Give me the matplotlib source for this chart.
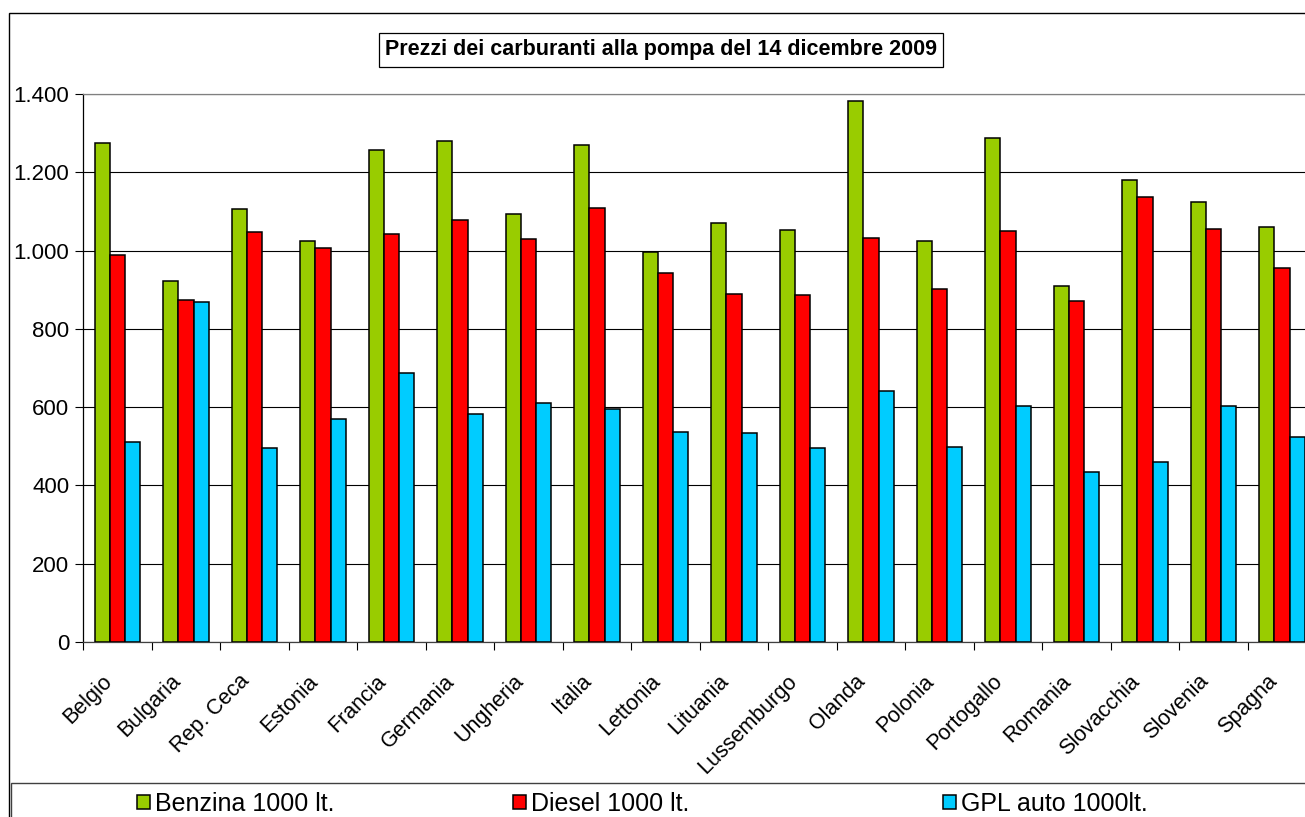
import numpy as np
import matplotlib
matplotlib.use("Agg")
import matplotlib.pyplot as plt
from matplotlib.patches import Rectangle
from matplotlib.ticker import FuncFormatter, FixedLocator
import matplotlib.transforms as mtransforms

plt.rcParams['font.family'] = ['Liberation Sans', 'DejaVu Sans']

# --- data: pump prices per 1000 litres ---
paesi = ["Belgio", "Bulgaria", "Rep. Ceca", "Estonia", "Francia", "Germania",
         "Ungheria", "Italia", "Lettonia", "Lituania", "Lussemburgo", "Olanda",
         "Polonia", "Portogallo", "Romania", "Slovacchia", "Slovenia", "Spagna"]
benzina = [1275, 922, 1107, 1025, 1258, 1281, 1093, 1270, 997, 1071, 1052, 1383,
           1024, 1287, 910, 1182, 1124, 1061]
diesel = [989, 873, 1049, 1006, 1042, 1078, 1031, 1109, 942, 888, 887, 1033,
          901, 1050, 871, 1138, 1056, 957]
gpl = [511, 869, 495, 569, 686, 582, 611, 596, 536, 534, 496, 641,
       497, 603, 435, 460, 604, 523]
serie = ["Benzina 1000 lt.", "Diesel 1000 lt.", "GPL auto 1000lt."]
colori = ["#99CC00", "#FF0000", "#00CCFF"]

W, H = 1305, 817
fig = plt.figure(figsize=(W / 100, H / 100), dpi=100)

# plot area runs past the right edge, as in the exported sheet
ax = fig.add_axes([83.3 / W, 1 - 641.7 / H, 18 * 68.5 / W, (641.7 - 94.3) / H])

x = np.arange(len(paesi))
bw = 1 / 4.5
barre = []
for i, (vals, col, lab) in enumerate(zip([benzina, diesel, gpl], colori, serie)):
    b = ax.bar(x + (i - 1) * bw, vals, width=bw, color=col, edgecolor="black",
               linewidth=1.1, label=lab, zorder=3)
    barre.append(b)

ax.set_xlim(-0.5, len(paesi) - 0.5)
ax.set_ylim(0, 1400)
ax.set_yticks(np.arange(0, 1401, 200))
ax.yaxis.set_major_formatter(FuncFormatter(lambda v, p: f"{int(v):,}".replace(",", ".")))
ax.yaxis.grid(True, color="black", linewidth=0.8, zorder=0)
ax.tick_params(axis="y", direction="out", length=6, width=0.8, labelsize=16, pad=4)

# category labels at centres, tick marks at the boundaries
ax.set_xticks(x)
ax.set_xticklabels(paesi, rotation=45, ha="right", va="top", rotation_mode="anchor",
                   fontsize=15.5)
ax.tick_params(axis="x", which="major", length=0, pad=21)
ax.xaxis.set_minor_locator(FixedLocator(np.arange(-0.5, len(paesi), 1.0)))
ax.tick_params(axis="x", which="minor", direction="out", length=6, width=0.8)
shift = mtransforms.ScaledTranslation(-0.16, 0, fig.dpi_scale_trans)
for t in ax.get_xticklabels():
    t.set_transform(t.get_transform() + shift)

ax.spines["right"].set_visible(False)
ax.spines["top"].set_color("#808080")
ax.spines["left"].set_color("black")
ax.spines["bottom"].set_color("#404040")
for s in ax.spines.values():
    s.set_linewidth(0.9)

# chart frame and legend box (both run off the right and bottom edges)
fig.patches.append(Rectangle((8.5 / W, -0.2), 1.2, 0.2 + 1 - 13 / H, transform=fig.transFigure,
                             fill=False, edgecolor="black", linewidth=1.0, zorder=0))
fig.patches.append(Rectangle((11 / W, -0.2), 1.2, 0.2 + 1 - 783 / H, transform=fig.transFigure,
                             fill=False, edgecolor="#404040", linewidth=1.0, zorder=0))

fig.text(661 / W, 1 - 50 / H, "Prezzi dei carburanti alla pompa del 14 dicembre 2009",
         ha="center", va="center", fontsize=15.5, fontweight="bold",
         bbox=dict(boxstyle="square,pad=0.3", facecolor="white", edgecolor="black", linewidth=0.9))

for b, lab, xl in zip(barre, serie, [137, 513, 943]):
    fig.legend([b], [lab], loc="center left", bbox_to_anchor=(xl / W, 1 - 804 / H),
               frameon=False, fontsize=18, handlelength=0.52, handleheight=0.52,
               handletextpad=0.2, borderpad=0, borderaxespad=0)

fig.savefig("out.png", dpi=100)
